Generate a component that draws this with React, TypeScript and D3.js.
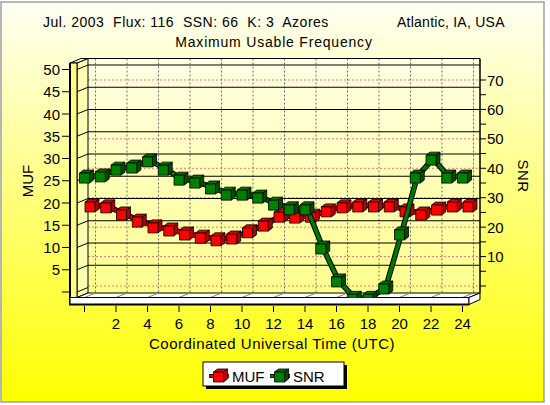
import * as d3 from "d3";

const hours = [0, 1, 2, 3, 4, 5, 6, 7, 8, 9, 10, 11, 12, 13, 14, 15, 16, 17, 18, 19, 20, 21, 22, 23, 24];
const mufValues = [18.6, 18.4, 16.8, 15.2, 13.9, 13.2, 12.3, 11.6, 11.0, 11.4, 12.8, 14.3, 16.3, 16.1, 16.3, 17.5, 18.4, 18.6, 18.6, 18.6, 17.5, 16.8, 17.9, 18.6, 18.6];
const snrValues = [38.2, 38.6, 40.9, 41.6, 43.7, 40.9, 37.5, 36.5, 34.5, 32.4, 32.4, 31.4, 29.0, 27.4, 27.4, 14.1, 2.9, -3, -3, 0.5, 18.9, 38.2, 44.3, 38.2, 38.2];
const hourTicks = [0, 2, 4, 6, 8, 10, 12, 14, 16, 18, 20, 22, 24];
const mufTicks = [0, 5, 10, 15, 20, 25, 30, 35, 40, 45, 50];
const snrTicks = [0, 5, 10, 15, 20, 25, 30, 35, 40, 45, 50, 55, 60, 65, 70];
const snrGrid = [0, 10, 20, 30, 40, 50, 60, 70];

const titleLeft = "Jul. 2003  Flux: 116  SSN: 66  K: 3  Azores";
const titleRight = "Atlantic, IA, USA";
const subtitle = "Maximum Usable Frequency";
const xTitle = "Coordinated Universal Time (UTC)";

const font = "'Liberation Sans', Arial, sans-serif";

// depth of the 3D box: front plane is DX left and DY lower than the back wall
const DX = 11;
const DY = 4.5;
const wall = { left: 88, right: 480, top: 58.5, bottom: 293 };
const floorFront = 297.5;
const floorBottom = 304.5;

const x = d3.scaleLinear().domain([0, 24]).range([84.5, 462.5]);
const yMuf = d3.scaleLinear().domain([0, 50]).range([287.5, 65]);
const ySnr = d3.scaleLinear().domain([0, 70]).range([286, 80]);

const proj = (h: number, yBack: number, f: number): [number, number] => [
  x(h) + f * DX,
  yBack + (1 - f) * DY
];

type CubeProps = { cx: number; cy: number; front: string; top: string; side: string; s?: number };

function Cube({ cx, cy, front, top, side, s = 5 }: CubeProps) {
  const a = 4;
  const b = 3;
  return (
    <g stroke="#000" strokeWidth={0.8} strokeLinejoin="round">
      <polygon points={`${cx - s},${cy - s} ${cx + s},${cy - s} ${cx + s + a},${cy - s - b} ${cx - s + a},${cy - s - b}`} fill={top} />
      <polygon points={`${cx + s},${cy - s} ${cx + s + a},${cy - s - b} ${cx + s + a},${cy + s - b} ${cx + s},${cy + s}`} fill={side} />
      <rect x={cx - s} y={cy - s} width={2 * s} height={2 * s} fill={front} />
    </g>
  );
}

const series = [
  { name: "MUF", values: mufValues, y: yMuf, depth: 0.5, line: "#e00000", front: "#ff0000", top: "#e00000", side: "#b00000" },
  { name: "SNR", values: snrValues, y: ySnr, depth: 0, line: "#007800", front: "#008000", top: "#007000", side: "#004f00" }
];

export default function App() {
  const lineGen = d3.line<[number, number]>().x(p => p[0] + 2).y(p => p[1] - 1.5);

  return (
    <svg width={550} height={405} viewBox="0 0 550 405" style={{ position: "absolute", left: 0, top: 0 }} fontFamily={font}>
      <defs>
        <linearGradient id="bg" x1="0" y1="0" x2="0" y2="1">
          <stop offset="0" stopColor="#fffff4" />
          <stop offset="1" stopColor="#ffff00" />
        </linearGradient>
        <linearGradient id="wallbg" x1="0" y1="0" x2="0" y2="1">
          <stop offset="0" stopColor="#ffffe6" />
          <stop offset="1" stopColor="#ffff8c" />
        </linearGradient>
        <clipPath id="plotclip">
          <rect x={77} y={40} width={wall.right - 77} height={floorFront - 40} />
        </clipPath>
      </defs>

      <rect x={0} y={0} width={550} height={405} fill="#fff" />
      <rect x={1} y={2} width={543} height={400} fill="url(#bg)" stroke="#a0a0a0" strokeWidth={1.5} />

      <text x={43} y={27} fontSize={14} letterSpacing={0.5} style={{ whiteSpace: "pre" }}>{titleLeft}</text>
      <text x={397} y={27} fontSize={14} letterSpacing={0.25}>{titleRight}</text>
      <text x={274} y={47} fontSize={14} letterSpacing={0.8} textAnchor="middle">{subtitle}</text>

      {/* back wall */}
      <rect x={wall.left} y={wall.top} width={wall.right - wall.left} height={wall.bottom - wall.top} fill="url(#wallbg)" />
      {snrGrid.map(t => (
        <line key={`s${t}`} x1={wall.left} x2={wall.right} y1={ySnr(t)} y2={ySnr(t)} stroke="#ff7070" strokeWidth={1} strokeDasharray="2,2" />
      ))}
      {hourTicks.map(h => (
        <line key={`v${h}`} x1={x(h) + DX} x2={x(h) + DX} y1={wall.top} y2={wall.bottom} stroke="#707070" strokeWidth={1} strokeDasharray="2,2" />
      ))}
      {mufTicks.filter(t => t > 0).map(t => (
        <line key={`m${t}`} x1={wall.left} x2={wall.right} y1={yMuf(t)} y2={yMuf(t)} stroke="#000" strokeWidth={1} />
      ))}
      <line x1={wall.left} x2={wall.right} y1={wall.top} y2={wall.top} stroke="#000" strokeWidth={1.2} />
      <line x1={wall.right} x2={wall.right} y1={wall.top} y2={wall.bottom} stroke="#000" strokeWidth={1.5} />

      {/* left wall */}
      <polygon points={`77,${wall.top + DY} ${wall.left},${wall.top} ${wall.left},${wall.bottom} 77,${floorFront}`} fill="#ffffb4" stroke="#000" strokeWidth={1} />
      {mufTicks.map(t => (
        <line key={`w${t}`} x1={77} y1={yMuf(t) + DY} x2={wall.left} y2={yMuf(t)} stroke="#000" strokeWidth={1} />
      ))}
      <polygon points={`70,${wall.top + DY} 77,${wall.top + DY} ${wall.left},${wall.top} ${wall.left - 7},${wall.top}`} fill="#ffffc8" stroke="#000" strokeWidth={1} />
      <rect x={70} y={wall.top + DY} width={7} height={floorBottom - wall.top - DY} fill="#ffff84" stroke="#000" strokeWidth={1} />
      <line x1={70} x2={70} y1={wall.top + DY} y2={floorBottom + 0.5} stroke="#000" strokeWidth={2} />

      {/* floor */}
      <polygon points={`77,${floorFront} 469,${floorFront} ${wall.right},${wall.bottom} ${wall.left},${wall.bottom}`} fill="#fff" stroke="#000" strokeWidth={1} />
      {hourTicks.map(h => (
        <line key={`f${h}`} x1={x(h)} y1={floorFront} x2={x(h) + DX} y2={wall.bottom} stroke="#808080" strokeWidth={1} />
      ))}
      <rect x={70} y={floorFront} width={399} height={floorBottom - floorFront} fill="#fff" stroke="#000" strokeWidth={1} />
      <polygon points={`469,${floorFront} ${wall.right},${wall.bottom} ${wall.right},${wall.bottom + 6.5} 469,${floorBottom}`} fill="#fff" stroke="#000" strokeWidth={1} />
      <line x1={69} x2={469} y1={floorBottom} y2={floorBottom} stroke="#000" strokeWidth={2} />

      {/* series */}
      <g clipPath="url(#plotclip)">
        {series.map(s => {
          const pts = hours.map((h, i) => proj(h, s.y(s.values[i]), s.depth));
          const d = lineGen(pts) ?? undefined;
          return (
            <g key={s.name}>
              <path d={d} fill="none" stroke="#000" strokeWidth={5.5} strokeLinejoin="round" />
              <path d={d} fill="none" stroke={s.line} strokeWidth={3.5} strokeLinejoin="round" />
              {pts.map(([cx, cy], i) => (
                <Cube key={i} cx={cx} cy={cy} front={s.front} top={s.top} side={s.side} />
              ))}
            </g>
          );
        })}
      </g>

      {/* left axis */}
      {mufTicks.map(t => (
        <g key={`lt${t}`}>
          <line x1={62} x2={70} y1={yMuf(t) + DY} y2={yMuf(t) + DY} stroke="#000" strokeWidth={1} />
          {t > 0 && (
            <text x={60} y={yMuf(t) + DY + 5.5} fontSize={15} textAnchor="end">{t}</text>
          )}
        </g>
      ))}
      <text x={32.5} y={181} fontSize={15} textAnchor="middle" transform="rotate(-90 32.5 181)">MUF</text>

      {/* right axis */}
      {snrTicks.map(t => (
        <g key={`rt${t}`}>
          <line x1={wall.right} x2={wall.right + 6} y1={ySnr(t)} y2={ySnr(t)} stroke="#000" strokeWidth={1} />
          {t > 0 && t % 10 === 0 && (
            <text x={487} y={ySnr(t) + 5.5} fontSize={15}>{t}</text>
          )}
        </g>
      ))}
      <text x={518} y={176} fontSize={15} letterSpacing={0.5} textAnchor="middle" transform="rotate(90 518 176)">SNR</text>

      {/* x axis */}
      {hourTicks.map(h => (
        <g key={`xt${h}`}>
          <line x1={x(h)} x2={x(h)} y1={306} y2={312} stroke="#000" strokeWidth={1} />
          {h > 0 && (
            <text x={x(h)} y={329} fontSize={15} textAnchor="middle">{h}</text>
          )}
        </g>
      ))}
      <text x={272} y={349} fontSize={15} letterSpacing={0.5} textAnchor="middle">{xTitle}</text>

      {/* legend */}
      <rect x={206} y={365} width={141} height={24} fill="#000" />
      <rect x={203} y={362} width={141} height={24} fill="#fff" stroke="#000" strokeWidth={1} />
      {series.map((s, i) => {
        const ox = 209 + i * 61;
        return (
          <g key={`lg${s.name}`}>
            <line x1={ox} x2={ox + 20} y1={376} y2={376} stroke="#000" strokeWidth={4} />
            <line x1={ox} x2={ox + 20} y1={376} y2={376} stroke={s.line} strokeWidth={2} />
            <Cube cx={ox + 9.5} cy={377} front={s.front} top={s.top} side={s.side} />
            <text x={ox + 23} y={382} fontSize={15}>{s.name}</text>
          </g>
        );
      })}
    </svg>
  );
}
